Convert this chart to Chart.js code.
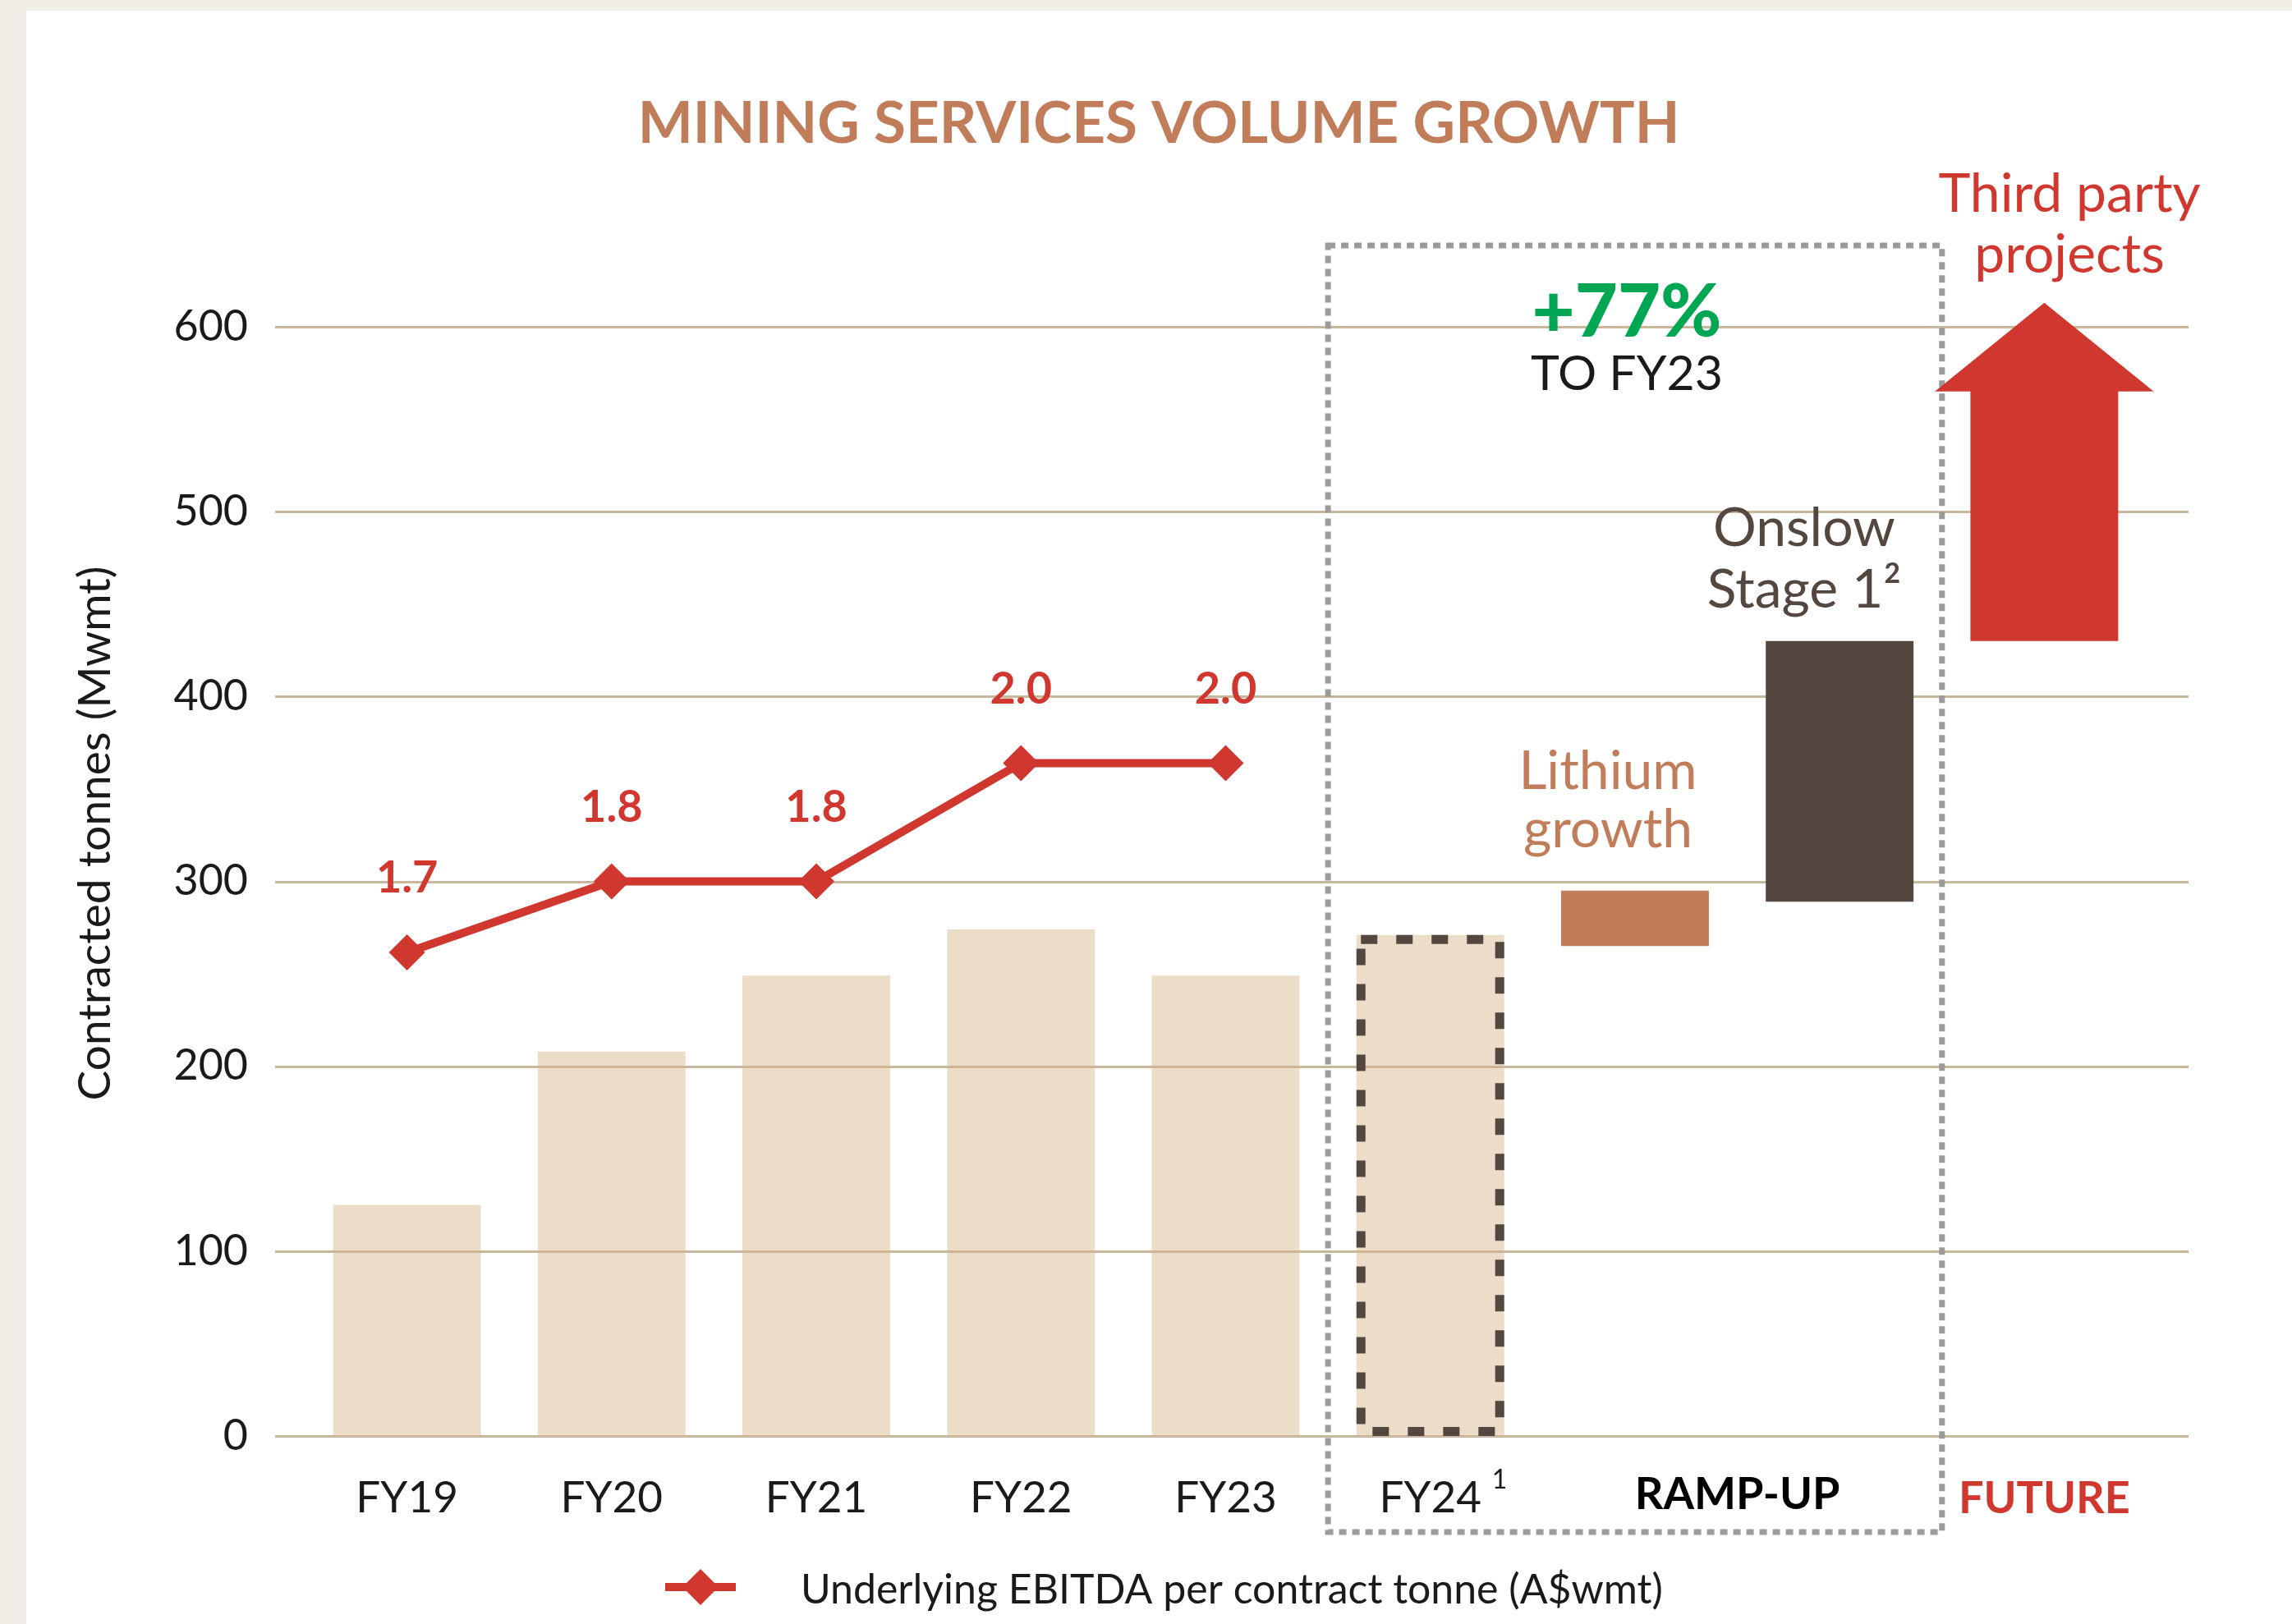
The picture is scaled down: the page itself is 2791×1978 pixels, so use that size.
<!DOCTYPE html>
<html>
<head>
<meta charset="utf-8">
<title>Mining services volume growth</title>
<script src="https://cdn.jsdelivr.net/npm/chart.js@4.4.0/dist/chart.umd.min.js"></script>
<style>
  html, body { margin: 0; padding: 0; background: #F1EEE7; }
  #card { position: absolute; left: 32px; top: 13px; right: 0; bottom: 0; background: #ffffff; }
  #volumeChart { position: absolute; left: 0; top: 0; }
</style>
</head>
<body>
<div id="card"></div>
<canvas id="volumeChart" width="2791" height="1978"></canvas>
<script>
// chart data
const categories = ['FY19', 'FY20', 'FY21', 'FY22', 'FY23', 'FY24', 'Lithium growth', 'Onslow Stage 1', 'Third party projects'];
const tickLabels = ['FY19', 'FY20', 'FY21', 'FY22', 'FY23', 'FY24', '', '', 'FUTURE'];
const contractedTonnes = [125, 208, 249, 274, 249, 271, null, null, null];
const lithiumGrowth = [265, 295];
const onslowStage1 = [289, 430];
const thirdPartyProjects = [430, 613];
const ebitdaPerTonne = [1.68, 1.80, 1.80, 2.00, 2.00];

const RED = '#D0372F';
const TAN = 'rgba(214, 180, 138, 0.46)';
const COPPER = '#C17C5A';
const DARK = '#54473F';
const GREEN = '#00A651';
const GRID = '#C8B69D';
const INK = '#1a1a1a';

Chart.defaults.font.family = 'Lato';

function only(name, value) {
  return categories.map(c => (c === name ? value : null));
}

function put(ctx, str, x, y, size, color, weight, align) {
  ctx.font = (weight || 'normal') + ' ' + size + 'px Lato';
  ctx.fillStyle = color;
  ctx.textAlign = align || 'center';
  ctx.textBaseline = 'middle';
  ctx.fillText(str, x, y);
}

const extras = {
  id: 'extras',
  beforeDatasetsDraw(chart) {
    // horizontal grid, a little wider than the plot area
    const { ctx, chartArea, scales: { y } } = chart;
    ctx.save();
    ctx.strokeStyle = GRID;
    ctx.lineWidth = 3;
    y.ticks.forEach(t => {
      const py = Math.round(y.getPixelForValue(t.value)) + 0.5;
      ctx.beginPath();
      ctx.moveTo(chartArea.left - 36, py);
      ctx.lineTo(chartArea.right + 51, py);
      ctx.stroke();
    });
    ctx.restore();
  },
  afterDatasetsDraw(chart) {
    const { ctx, scales: { x, y } } = chart;
    ctx.save();

    // FY24 estimate: dashed outline
    const fy24 = chart.getDatasetMeta(1).data[5];
    ctx.strokeStyle = DARK;
    ctx.lineWidth = 11;
    ctx.setLineDash([20, 23]);
    ctx.strokeRect(fy24.x - fy24.width / 2 + 5.5, fy24.y + 5.5, fy24.width - 11, fy24.base - fy24.y - 11);

    // ramp-up dotted box
    const left = x.getPixelForValue(4.5);
    const right = x.getPixelForValue(7.5);
    const top = y.getPixelForValue(644);
    const bottom = y.getPixelForValue(-52);
    ctx.strokeStyle = '#9B9B9B';
    ctx.lineWidth = 7;
    ctx.setLineDash([9, 7]);
    ctx.strokeRect(left, top, right - left, bottom - top);
    ctx.setLineDash([]);

    // future arrow
    const fut = chart.getDatasetMeta(4).data[8];
    const half = fut.width / 2;
    const headH = fut.width * 0.6;
    const headHalf = fut.width * 0.74;
    ctx.fillStyle = RED;
    ctx.beginPath();
    ctx.moveTo(fut.x - half, fut.base);
    ctx.lineTo(fut.x - half, fut.y + headH);
    ctx.lineTo(fut.x - headHalf, fut.y + headH);
    ctx.lineTo(fut.x, fut.y);
    ctx.lineTo(fut.x + headHalf, fut.y + headH);
    ctx.lineTo(fut.x + half, fut.y + headH);
    ctx.lineTo(fut.x + half, fut.base);
    ctx.closePath();
    ctx.fill();

    // EBITDA labels
    chart.getDatasetMeta(0).data.forEach((pt, i) => {
      put(ctx, ebitdaPerTonne[i].toFixed(1), pt.x, pt.y - 90, 54, RED, 'bold');
    });
    ctx.restore();
  },
  afterDraw(chart) {
    const { ctx, scales: { x } } = chart;
    ctx.save();
    put(ctx, 'MINING SERVICES VOLUME GROWTH', 1411, 151, 71, COPPER, 'bold');

    // y axis title
    ctx.save();
    ctx.translate(116, 1015);
    ctx.rotate(-Math.PI / 2);
    put(ctx, 'Contracted tonnes (Mwmt)', 0, 0, 55, INK);
    ctx.restore();

    put(ctx, '+77%', 1981, 381, 90, GREEN, '900');
    put(ctx, 'TO FY23', 1981, 456, 59, INK);
    put(ctx, 'Lithium', 1958, 940, 66, COPPER);
    put(ctx, 'growth', 1958, 1011, 66, COPPER);
    put(ctx, 'Onslow', 2197, 644, 66, DARK);
    put(ctx, 'Stage 1\u00B2', 2197, 719, 66, DARK);
    put(ctx, 'Third party', 2520, 237, 66, RED);
    put(ctx, 'projects', 2520, 311, 66, RED);

    put(ctx, 'RAMP-UP', x.getPixelForValue(6.5), 1821, 54, '#000', 'bold');

    // footnote marker after the FY24 tick label
    ctx.font = '53px Lato';
    const fyHalf = ctx.measureText('FY24').width / 2;
    put(ctx, '1', x.getPixelForValue(5) + fyHalf + 22, 1803, 32, INK);

    // legend
    ctx.strokeStyle = RED;
    ctx.lineWidth = 10;
    ctx.beginPath();
    ctx.moveTo(810, 1933);
    ctx.lineTo(896, 1933);
    ctx.stroke();
    ctx.fillStyle = RED;
    ctx.beginPath();
    ctx.moveTo(853, 1911);
    ctx.lineTo(875, 1933);
    ctx.lineTo(853, 1955);
    ctx.lineTo(831, 1933);
    ctx.closePath();
    ctx.fill();
    put(ctx, 'Underlying EBITDA per contract tonne (A$wmt)', 975, 1937, 50, INK, 'normal', 'left');
    ctx.restore();
  }
};

const volumeChart = new Chart(document.getElementById('volumeChart').getContext('2d'), {
  type: 'bar',
  data: {
    labels: categories,
    datasets: [
      {
        type: 'line',
        label: 'Underlying EBITDA per contract tonne (A$wmt)',
        data: ebitdaPerTonne,
        yAxisID: 'y2',
        borderColor: RED,
        backgroundColor: RED,
        borderWidth: 10,
        pointStyle: 'rectRot',
        pointRadius: 22,
        pointHoverRadius: 22,
        pointBorderWidth: 0,
        order: 0,
        clip: false
      },
      { label: 'Contracted tonnes', data: contractedTonnes, backgroundColor: TAN, order: 1 },
      { label: 'Lithium growth', data: only('Lithium growth', lithiumGrowth), backgroundColor: COPPER, order: 1 },
      { label: 'Onslow Stage 1', data: only('Onslow Stage 1', onslowStage1), backgroundColor: DARK, order: 1 },
      { label: 'Third party projects', data: only('Third party projects', thirdPartyProjects), backgroundColor: 'rgba(0,0,0,0)', order: 1, clip: false }
    ]
  },
  options: {
    responsive: false,
    animation: false,
    devicePixelRatio: 1,
    layout: { padding: { top: 398, right: 177, left: 0, bottom: 0 } },
    datasets: { bar: { grouped: false, barPercentage: 0.722, categoryPercentage: 1 } },
    plugins: { legend: { display: false }, tooltip: { enabled: false } },
    scales: {
      x: {
        grid: { display: false, drawTicks: false },
        border: { display: false },
        afterFit(scale) { scale.height = 229; },
        ticks: {
          callback: (v, i) => tickLabels[i],
          autoSkip: false,
          maxRotation: 0,
          padding: 44,
          color: ctx => (tickLabels[ctx.index] === 'FUTURE' ? RED : INK),
          font: ctx => (tickLabels[ctx.index] === 'FUTURE' ? { size: 54, weight: 'bold' } : { size: 53 })
        }
      },
      y: {
        min: 0,
        max: 600,
        grid: { display: false, drawTicks: false },
        border: { display: false },
        afterFit(scale) { scale.width = 371; },
        ticks: { stepSize: 100, padding: 69, color: INK, font: { size: 52 } }
      },
      y2: {
        display: false,
        min: 0.8625,
        max: 2.7375
      }
    }
  },
  plugins: [extras]
});
</script>
</body>
</html>
